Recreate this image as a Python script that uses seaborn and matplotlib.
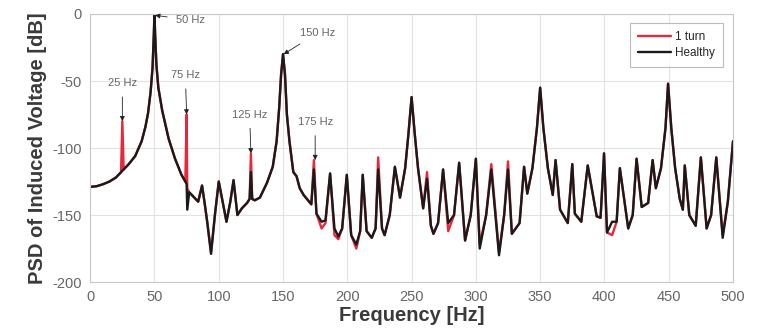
import matplotlib
matplotlib.use("Agg")
import matplotlib.pyplot as plt
import seaborn as sns
import pandas as pd

freq = [0, 5, 10, 15, 20, 24, 25, 26, 30, 35, 40, 43, 45, 47, 48.5, 49.5, 50, 50.5, 51.5, 53,
        56, 61, 66, 71, 74, 75, 75.5, 77, 80, 84, 87, 89, 91, 94, 97, 100, 103, 106, 109, 111.5,
        114.5, 118, 122, 124, 125, 126, 128, 132, 137.5, 142, 145, 147, 148.5, 150, 151.5, 153,
        155, 158, 160.5, 163, 166, 172, 174, 176, 180, 183, 186.6, 190, 193, 196, 199.6, 203,
        207, 210, 212, 215, 219, 222, 224, 227, 229, 233, 237, 241, 245, 247.5, 250, 252.5, 255,
        259, 262, 265, 267, 270.6, 274.5, 278.5, 283, 287, 291.6, 296, 300, 303, 308, 312, 318,
        322, 325, 328, 334, 337.5, 340, 344, 347.5, 350, 352.5, 356, 359.8, 362, 365.5, 371.5,
        375, 377, 382, 387, 394, 397, 399.7, 402, 406, 409.5, 412, 418.5, 422, 425, 429, 434,
        437.5, 440, 444, 447.5, 449.5, 452, 455, 458.6, 461, 462.5, 466, 471, 475, 479.5, 483,
        487, 492, 496, 500]

healthy = [-129, -128.5, -127, -125, -122, -118, -117, -116, -112, -106, -95, -84, -74, -58, -40, -15, 0, -15, -38, -55,
           -72, -93, -108, -120, -125, -127, -146, -133, -136, -140, -128, -141, -155, -179, -150, -125, -140, -155, -140, -124,
           -150, -145, -141, -138, -118, -138, -139, -137, -126, -114, -95, -70, -45, -30, -45, -75,
           -95, -118, -121, -130, -135, -142, -116, -149, -155, -154, -119, -160, -166, -160, -120, -165,
           -172, -162, -120, -162, -167, -160, -116, -160, -165, -150, -114, -137, -115, -90, -62, -90, -115,
           -145, -123, -158, -164, -156, -116, -156, -150, -111, -169, -150, -108, -175, -150, -116, -180,
           -150, -116, -164, -156, -114, -134, -115, -85, -55, -85, -115, -135, -109, -146, -156,
           -112, -149, -155, -113, -151, -152, -104, -163, -155, -155, -115, -160, -150, -108, -144, -141,
           -109, -130, -115, -85, -52, -85, -115, -138, -146, -113, -150, -158, -107, -160, -150,
           -107, -167, -140, -95]

one_turn = [-129, -128.5, -127, -125, -122, -118, -80, -116, -112, -106, -95, -84, -74, -58, -40, -15, 0, -15, -38, -55,
            -72, -93, -108, -120, -125, -75, -130, -133, -136, -140, -128, -141, -155, -178, -150, -125, -140, -155, -140, -124,
            -150, -145, -141, -138, -104, -138, -139, -137, -126, -114, -95, -70, -45, -30, -45, -75,
            -95, -118, -121, -130, -135, -142, -109, -149, -160, -156, -119, -165, -168, -160, -120, -165,
            -175, -162, -120, -162, -167, -160, -107, -160, -165, -150, -114, -137, -115, -90, -62, -90, -115,
            -145, -118, -158, -164, -156, -116, -162, -150, -111, -169, -150, -108, -172, -150, -112, -178,
            -150, -110, -164, -156, -114, -134, -115, -85, -55, -85, -115, -135, -109, -146, -156,
            -112, -149, -155, -113, -151, -152, -104, -163, -165, -155, -115, -160, -150, -108, -144, -141,
            -109, -130, -115, -85, -52, -85, -115, -138, -146, -113, -150, -158, -107, -160, -150,
            -107, -165, -140, -95]

ann_labels = ["25 Hz", "50 Hz", "75 Hz", "125 Hz", "150 Hz", "175 Hz"]
ann_freq = [25, 50.5, 75, 125, 150.5, 175]
ann_db = [-80, -1, -75, -104, -30, -109]
ann_text_freq = [25, 78, 74, 124, 177, 175]
ann_text_db = [-51.5, -4.5, -45.5, -75, -14, -80.5]

xticks = [0, 50, 100, 150, 200, 250, 300, 350, 400, 450, 500]
yticks = [-200, -150, -100, -50, 0]

sns.set_theme(style="whitegrid")
plt.rcParams['font.family'] = ['Liberation Sans', 'DejaVu Sans']
plt.rcParams['axes.unicode_minus'] = False

df = pd.concat([
    pd.DataFrame({"Frequency": freq, "PSD": one_turn, "Case": "1 turn"}),
    pd.DataFrame({"Frequency": freq, "PSD": healthy, "Case": "Healthy"}),
])

fig = plt.figure(figsize=(7.58, 3.33), dpi=100)
ax = fig.add_axes([0.119, 0.153, 0.848, 0.805])
sns.lineplot(data=df, x="Frequency", y="PSD", hue="Case", palette={"1 turn": "#e8283a", "Healthy": "#1a1a1a"},
             estimator=None, sort=False, linewidth=1.7, ax=ax)

ax.set_xlim(0, 500)
ax.set_ylim(-200, 0)
ax.set_xticks(xticks)
ax.set_yticks(yticks)
ax.tick_params(axis='both', labelsize=10.5, labelcolor="#666666", direction='in', length=3, color="#bbbbbb")
ax.tick_params(axis='y', pad=6)
ax.tick_params(axis='x', pad=6)
ax.grid(True, color="#e2e2e2", linewidth=0.8)
for s in ax.spines.values():
    s.set_color("#c8c8c8")
    s.set_linewidth(0.8)
ax.set_xlabel("Frequency [Hz]", fontsize=14.5, fontweight="bold", color="#3a3a3a", labelpad=1)
ax.set_ylabel("PSD of Induced Voltage [dB]", fontsize=14.5, fontweight="bold", color="#3a3a3a", labelpad=4)

for lab, fx, fy, tx, ty in zip(ann_labels, ann_freq, ann_db, ann_text_freq, ann_text_db):
    ax.annotate(lab, xy=(fx, fy), xytext=(tx, ty), fontsize=8, color="#666666",
                ha="center", va="center",
                arrowprops=dict(arrowstyle="-|>", color="#222222", lw=0.6,
                                mutation_scale=7, shrinkA=4, shrinkB=0))

leg = ax.legend(loc="upper right", fontsize=8.5, frameon=True, handlelength=2.8, borderpad=0.4,
                labelspacing=0.3, handletextpad=0.3, bbox_to_anchor=(0.988, 0.975))
leg.get_frame().set_edgecolor("#aaaaaa")
leg.get_frame().set_linewidth(0.8)
leg.get_frame().set_boxstyle("square")
for line in leg.get_lines():
    line.set_linewidth(1.7)

fig.savefig("out.png", dpi=100)
